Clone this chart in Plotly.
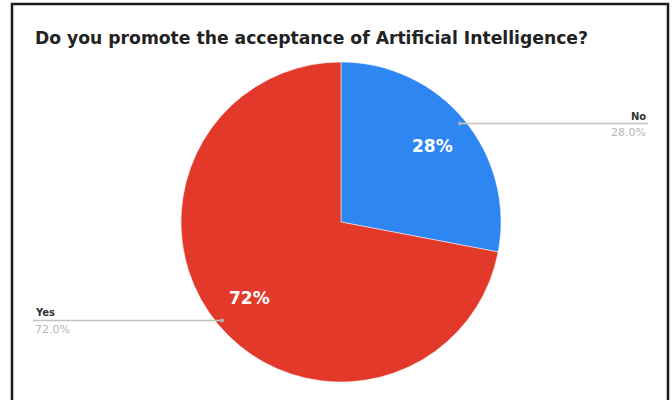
import math
import plotly.graph_objects as go

# Data
categories = ["No", "Yes"]
values = [28.0, 72.0]
colors = ["#2E86F3", "#E3392A"]
title_text = "Do you promote the acceptance of Artificial Intelligence?"

W, H = 672, 400
CX, CY, R = 341, 222, 160
FONT = "DejaVu Sans"


def px(x):
    return x / W


def py(y):
    return 1 - y / H


total = sum(values)
fig = go.Figure()
fig.add_trace(go.Pie(
    labels=categories,
    values=values,
    sort=False,
    direction="clockwise",
    rotation=0,
    marker=dict(colors=colors, line=dict(color="white", width=0.5)),
    textinfo="none",
    hoverinfo="label+percent",
    showlegend=False,
    domain=dict(x=[px(CX - 164), px(CX + 164)], y=[py(CY + R), py(CY - R)]),
))

annotations = []
shapes = []

# border frame (cut off at bottom)
shapes.append(dict(type="rect", xref="paper", yref="paper",
                   x0=px(12), x1=px(668), y0=py(420), y1=py(4),
                   line=dict(color="#1a1a1a", width=2.5), fillcolor="rgba(0,0,0,0)"))

annotations.append(dict(text="<b>" + title_text + "</b>", xref="paper", yref="paper",
                        x=px(33), y=py(38), xanchor="left", yanchor="middle",
                        showarrow=False, font=dict(family=FONT, size=17.2, color="#222")))

cum = 0.0
for i, (lab, v) in enumerate(zip(categories, values)):
    mid = (cum + v / 2) / total * 2 * math.pi
    cum += v
    sa, ca = math.sin(mid), math.cos(mid)
    # inside percent label
    ix, iy = CX + 0.745 * R * sa, CY - 0.745 * R * ca
    annotations.append(dict(text="<b>%d%%</b>" % round(v / total * 100), xref="paper", yref="paper",
                            x=px(ix), y=py(iy), showarrow=False, xanchor="center", yanchor="middle",
                            font=dict(family=FONT, size=17, color="white")))
    # leader line
    dx, dy = CX + 0.965 * R * sa, CY - 0.965 * R * ca
    if sa >= 0:
        x_end = 648
        anchor = "right"
    else:
        x_end = 33
        anchor = "left"
    shapes.append(dict(type="line", xref="paper", yref="paper",
                       x0=px(dx), y0=py(dy), x1=px(x_end), y1=py(dy),
                       line=dict(color="#c4c4c4", width=1.5)))
    shapes.append(dict(type="circle", xref="paper", yref="paper",
                       x0=px(dx - 2), x1=px(dx + 2), y0=py(dy + 2), y1=py(dy - 2),
                       line=dict(width=0), fillcolor="#b0b0b0"))
    annotations.append(dict(text="<b>" + lab + "</b>", xref="paper", yref="paper",
                            x=px(x_end), y=py(dy - 7.5), xanchor=anchor, yanchor="middle",
                            showarrow=False, font=dict(family=FONT, size=10, color="#333")))
    annotations.append(dict(text="%.1f%%" % (v / total * 100), xref="paper", yref="paper",
                            x=px(x_end), y=py(dy + 9), xanchor=anchor, yanchor="middle",
                            showarrow=False, font=dict(family=FONT, size=11, color="#b5b5b5")))

fig.update_layout(
    width=W, height=H,
    margin=dict(l=0, r=0, t=0, b=0),
    paper_bgcolor="white",
    plot_bgcolor="white",
    annotations=annotations,
    shapes=shapes,
)

fig.write_html("out.html", config={"displayModeBar": False},
               post_script="document.body.style.margin='0';")
